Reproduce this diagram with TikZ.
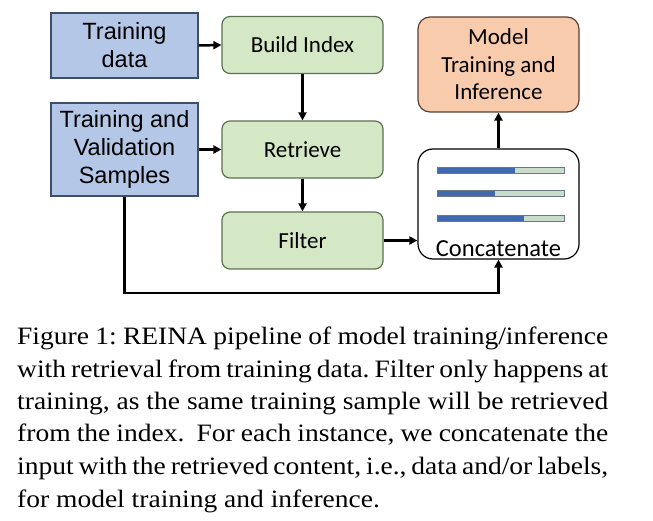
\documentclass[tikz,border=0pt]{standalone}
\usepackage{fontspec}
\setmainfont{Liberation Serif}
\newfontfamily\capfont[FakeStretch=1.1]{Liberation Serif}
\newfontfamily\arialf{Liberation Sans}
\newfontfamily\calib{Carlito}
\usetikzlibrary{arrows.meta}
\frenchspacing
\definecolor{bluefill}{HTML}{B4C7E7}
\definecolor{blueline}{HTML}{3F4F6B}
\definecolor{greenfill}{HTML}{D5E8C6}
\definecolor{greenline}{HTML}{5C7050}
\definecolor{orangefill}{HTML}{F8CBAD}
\definecolor{orangeline}{HTML}{5A4030}
\definecolor{bardark}{HTML}{4169B0}
\definecolor{barlight}{HTML}{C9DDCF}
\definecolor{barline}{HTML}{6A7A80}
\tikzset{
  inbox/.style={draw=blueline, fill=bluefill, line width=1.3pt, align=center,
    font=\arialf\fontsize{23.5}{28}\selectfont, inner sep=0pt},
  stepbox/.style={draw=greenline, fill=greenfill, line width=1.2pt, rounded corners=8pt,
    minimum width=161pt, minimum height=57pt, align=center,
    font=\calib\fontsize{23}{27}\selectfont, inner sep=0pt},
  modbox/.style={draw=orangeline, fill=orangefill, line width=1.2pt, rounded corners=12pt,
    minimum width=161pt, minimum height=95pt, align=center,
    font=\calib\fontsize{23}{27.5}\selectfont, inner sep=0pt},
  catbox/.style={draw=black, fill=white, line width=1.2pt, rounded corners=15pt,
    minimum width=161pt, minimum height=110pt, inner sep=0pt},
  conn/.style={line width=2.5pt, -{Triangle[length=8pt,width=8pt]}},
  bar/.style={draw=barline, line width=0.6pt},
  capline/.style={anchor=base west, inner sep=0pt, font=\capfont\fontsize{25}{32}\selectfont}
}
\begin{document}
\begin{tikzpicture}[x=1pt,y=-1pt]
\useasboundingbox (0,0) rectangle (653,521);
% input boxes
\node[inbox, minimum width=147pt, minimum height=65pt] (td) at (124.5,45.5) {Training\\data};
\node[inbox, minimum width=147pt, minimum height=93pt] (tvs) at (124.5,149.5) {Training and\\Validation\\Samples};
% steps
\node[stepbox] (bi) at (302.5,45) {Build Index};
\node[stepbox] (ret) at (302.5,149.5) {Retrieve};
\node[stepbox] (fil) at (302.5,240.5) {Filter};
% model
\node[modbox] (mod) at (498.5,64.5) {Model\\Training and\\Inference};
% concatenate
\node[catbox] (cat) at (498.5,204) {};
\node[font=\calib\fontsize{24.5}{28}\selectfont, inner sep=0pt] (catlabel) at (498.5,249) {Concatenate};
% bars
\foreach \y/\e in {170/515, 193/495, 218/524}{
  \fill[barlight] (437,\y-3) rectangle (564,\y+3);
  \fill[bardark] (437,\y-3) rectangle (\e,\y+3);
  \draw[bar] (437,\y-3) rectangle (564,\y+3);
}
% connectors
\draw[conn] (td.east) -- (bi.west);
\draw[conn] (tvs.east |- ret.west) -- (ret.west);
\draw[conn] (bi.south) -- (ret.north);
\draw[conn] (ret.south) -- (fil.north);
\draw[conn] (fil.east) -- (fil.east -| cat.west);
\draw[conn] (cat.north) -- (mod.south);
\coordinate (c1) at (124.5,293);
\coordinate (c2) at (498.5,293);
\draw[conn] (tvs.south) -- (c1) -- (c2) -- (cat.south);
% caption
\node[capline] (l1) at (17,344) {\makebox[591pt][s]{Figure 1: REINA pipeline of model training/inference}};
\node[capline] (l2) at (17,377) {\makebox[591pt][s]{with retrieval from training data. Filter only happens at}};
\node[capline] (l3) at (17,409) {\makebox[591pt][s]{training, as the same training sample will be retrieved}};
\node[capline] (l4) at (17,441) {\makebox[591pt][s]{from the index. \ For each instance, we concatenate the}};
\node[capline] (l5) at (17,474) {\makebox[591pt][s]{input with the retrieved content, i.e., data and/or labels,}};
\node[capline] (l6) at (17,507) {for model training and inference.};
\end{tikzpicture}
\end{document}
